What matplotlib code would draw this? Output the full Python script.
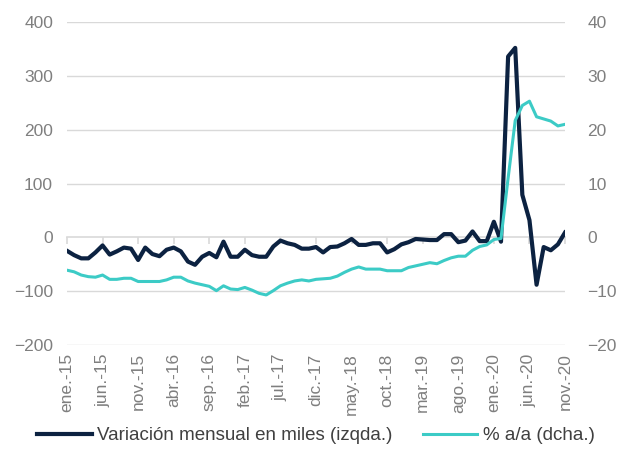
import matplotlib
matplotlib.use('Agg')
import matplotlib.pyplot as plt

# ── Data ──────────────────────────────────────────────────────────────────────
MESES = ['ene.', 'feb.', 'mar.', 'abr.', 'may.', 'jun.',
         'jul.', 'ago.', 'sep.', 'oct.', 'nov.', 'dic.']
fechas = [f'{MESES[i % 12]}-{15 + i // 12}' for i in range(71)]  # ene.-15 .. nov.-20

# variación mensual en miles (eje izquierdo)
variacion = [-25, -33, -39, -39, -28, -15, -32, -26, -19, -21,
             -42, -19, -31, -35, -23, -19, -26, -45, -51, -36,
             -29, -37, -8, -36, -36, -23, -33, -36, -36, -17,
             -6, -11, -14, -21, -21, -18, -28, -18, -17, -11,
             -3, -14, -14, -11, -11, -28, -22, -13, -9, -3,
             -4, -5, -5, 6, 6, -9, -6, 11, -7, -7,
             29, -8, 336, 352, 79, 32, -88, -18, -24, -13,
             9]

# % a/a (eje derecho)
interanual = [-6.1, -6.4, -7.0, -7.3, -7.4, -7.0, -7.8, -7.8, -7.6, -7.6,
              -8.2, -8.2, -8.2, -8.2, -7.9, -7.4, -7.4, -8.1, -8.5, -8.8,
              -9.1, -9.9, -9.0, -9.6, -9.7, -9.3, -9.8, -10.4, -10.7, -9.9,
              -9.0, -8.5, -8.1, -7.9, -8.1, -7.8, -7.7, -7.6, -7.2, -6.5,
              -5.9, -5.5, -5.9, -5.9, -5.9, -6.2, -6.2, -6.2, -5.6, -5.3,
              -5.0, -4.7, -4.9, -4.3, -3.8, -3.5, -3.5, -2.4, -1.7, -1.4,
              -0.4, -0.2, 11.0, 21.7, 24.5, 25.3, 22.4, 22.0, 21.6, 20.7,
              21.0]

left_ticks = [-200, -100, 0, 100, 200, 300, 400]
right_ticks = [-20, -10, 0, 10, 20, 30, 40]

# ── Style ─────────────────────────────────────────────────────────────────────
plt.rcParams['font.family'] = ['Liberation Sans', 'DejaVu Sans']
DARK = '#0c2241'
CYAN = '#3ccbc6'
GRID = '#d9d9d9'
TXT = '#7f7f7f'

fig = plt.figure(figsize=(6.22, 4.5), dpi=100)
ax = fig.add_axes([0.1077, 0.2333, 0.8007, 0.7177])
ax2 = ax.twinx()

x = list(range(len(fechas)))

ax.plot(x, variacion, color=DARK, lw=3.0, solid_joinstyle='round',
        label='Variación mensual en miles (izqda.)', zorder=3)
ax2.plot(x, interanual, color=CYAN, lw=2.2, solid_joinstyle='round',
         label='% a/a (dcha.)')

# ── Axes ──────────────────────────────────────────────────────────────────────
ax.set_xlim(0, len(fechas) - 1)
ax.set_ylim(-200, 400)
ax2.set_ylim(-20, 40)
ax.set_yticks(left_ticks)
ax2.set_yticks(right_ticks)

for v in left_ticks:
    if v != 0:
        ax.axhline(v, color=GRID, lw=1.0, zorder=0)

for a in (ax, ax2):
    for s in ['top', 'left', 'right']:
        a.spines[s].set_visible(False)
ax2.spines['bottom'].set_visible(False)

ax.spines['bottom'].set_position(('data', 0))
ax.spines['bottom'].set_color(GRID)
ax.spines['bottom'].set_linewidth(1.2)
ax.spines['bottom'].set_zorder(1)

tick_pos = x[::5]
ax.set_xticks(tick_pos)
ax.tick_params(axis='x', length=5, color=GRID, width=1.2, labelbottom=False)

sec = ax.secondary_xaxis('bottom')
sec.set_xticks(tick_pos)
sec.set_xticklabels(fechas[::5], rotation=90, fontsize=12.5, color=TXT)
sec.tick_params(axis='x', length=0, pad=6)
sec.spines['bottom'].set_visible(False)

ax.tick_params(axis='y', length=0, labelsize=12.5, labelcolor=TXT, pad=10)
ax2.tick_params(axis='y', length=0, labelsize=12.5, labelcolor=TXT, pad=16)

h1, l1 = ax.get_legend_handles_labels()
h2, l2 = ax2.get_legend_handles_labels()
leg = fig.legend(h1 + h2, l1 + l2, loc='lower center', bbox_to_anchor=(0.508, -0.025),
                 ncol=2, frameon=False, fontsize=13.5, handlelength=2.9,
                 handletextpad=0.3, columnspacing=1.6)
for t in leg.get_texts():
    t.set_color('#404040')

plt.savefig('out.png', dpi=100)
